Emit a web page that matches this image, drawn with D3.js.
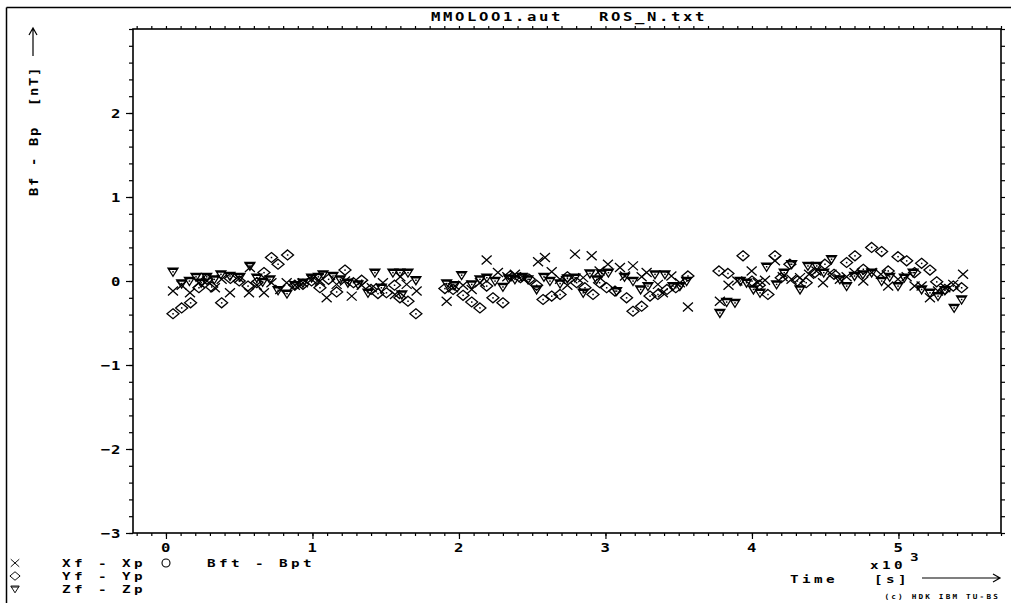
<!DOCTYPE html>
<html><head><meta charset="utf-8">
<script src="https://cdn.jsdelivr.net/npm/d3@7"></script>
<style>
body{margin:0;background:#fff}
svg{display:block}
text{font-family:"DejaVu Sans Mono",monospace;font-weight:bold;fill:#000;white-space:pre}
</style>
</head><body>
<svg id="c" width="1011" height="603"></svg>
<script>
// ---- data (time in s, values in nT) ----
const xTimes=[48,107,164,225,280,334,380,437,500,567,573,620,669,720,780,824,880,935,994,1051,1097,1165,1222,1268,1336,1405,1481,1563,1600,1643,1711,
1916,1960,2028,2087,2143,2189,2266,2330,2382,2440,2540,2587,2633,2690,2740,2792,2848,2906,2960,3017,3099,3133,3188,3247,3281,3358,3392,3450,3508,3563,
3781,3840,3900,3998,4040,4089,4157,4210,4270,4328,4390,4440,4485,4543,4600,4646,4700,4760,4817,4880,4930,4997,5056,5110,5158,5215,5270,5320,5374,5441];
const xVals=[-0.12,-0.05,-0.14,-0.02,0.00,-0.08,0.02,-0.14,0.03,-0.14,0.16,-0.05,-0.14,-0.02,-0.10,-0.02,-0.05,-0.02,0.02,0.00,-0.20,-0.04,0.00,-0.18,-0.05,-0.08,-0.02,-0.16,0.05,-0.04,-0.12,
-0.24,-0.08,-0.05,-0.10,-0.02,0.25,0.10,0.05,0.08,0.04,0.23,0.28,0.11,0.02,-0.05,0.32,0.04,0.30,0.12,0.20,0.16,0.06,0.18,0.05,0.10,-0.04,-0.14,0.06,-0.02,-0.31,
-0.24,-0.05,0.00,0.12,-0.02,0.01,0.24,0.05,0.02,0.04,0.08,0.12,-0.02,0.08,0.02,0.05,0.10,0.00,0.10,0.08,-0.06,0.02,0.05,-0.06,-0.06,-0.20,-0.12,-0.08,-0.04,0.08];

const yTimes=[48,107,168,225,280,312,380,440,500,560,620,669,720,765,830,880,935,994,1051,1110,1165,1222,1280,1336,1400,1447,1505,1560,1597,1652,1706,
1904,1960,2028,2087,2143,2189,2232,2300,2350,2420,2480,2530,2574,2633,2690,2740,2803,2860,2915,2960,3008,3065,3144,3188,3247,3304,3358,3420,3480,3563,
3775,3836,3939,4000,4050,4109,4157,4200,4259,4310,4370,4430,4498,4560,4646,4703,4760,4817,4885,4930,4997,5056,5110,5158,5215,5261,5317,5374,5431];
const yVals=[-0.39,-0.32,-0.26,-0.08,0.02,-0.07,-0.26,0.03,0.00,-0.06,-0.02,0.10,0.28,0.20,0.31,-0.05,-0.04,0.00,-0.08,0.02,-0.13,0.13,-0.02,0.01,-0.10,-0.15,-0.14,-0.05,-0.20,-0.24,-0.39,
-0.09,-0.10,-0.17,-0.25,-0.32,-0.06,-0.20,-0.26,0.06,0.04,0.02,-0.05,-0.22,-0.18,-0.16,0.05,-0.02,-0.08,-0.16,-0.02,-0.08,-0.12,-0.20,-0.36,-0.30,-0.18,-0.16,-0.10,-0.08,0.06,
0.12,0.09,0.30,0.00,-0.05,-0.16,0.30,0.04,0.20,0.00,-0.02,0.10,0.20,0.08,0.22,0.30,0.14,0.40,0.35,0.12,0.29,0.24,0.10,0.21,0.13,-0.01,-0.10,-0.06,-0.08];

const zTimes=[48,107,160,205,240,278,330,375,437,505,573,620,660,710,765,826,880,935,994,1040,1072,1140,1190,1242,1311,1379,1426,1470,1549,1597,1610,1652,1706,
1916,1970,2018,2087,2143,2190,2246,2300,2340,2382,2430,2471,2530,2580,2621,2690,2740,2792,2848,2894,2940,2974,3020,3076,3130,3188,3240,3290,3338,3406,3461,3508,3554,
3781,3827,3884,3920,3963,4010,4055,4100,4168,4220,4271,4328,4382,4442,4490,4543,4600,4646,4700,4757,4817,4885,4940,4997,5040,5100,5158,5215,5270,5317,5380,5431];
const zVals=[0.11,-0.03,0.00,0.05,-0.02,0.05,0.02,0.08,0.06,0.05,0.18,0.04,-0.01,0.02,-0.11,-0.15,-0.05,-0.02,0.04,0.05,0.08,0.06,0.02,-0.02,-0.04,-0.14,0.10,-0.08,0.10,0.10,-0.16,0.10,0.01,
-0.03,-0.05,0.07,-0.04,0.02,0.04,0.00,-0.07,0.03,0.02,0.05,0.02,-0.10,0.05,0.00,-0.03,0.03,0.04,-0.14,0.09,0.02,0.09,0.10,-0.12,0.05,0.00,-0.10,-0.06,0.08,0.08,-0.06,-0.06,0.00,
-0.38,-0.25,-0.26,0.00,-0.02,-0.10,-0.14,0.17,-0.04,0.10,0.20,-0.10,0.18,0.18,0.10,0.26,0.02,-0.06,0.06,0.08,0.10,0.00,0.05,-0.06,0.04,0.10,-0.10,-0.14,-0.18,-0.11,-0.32,-0.22];

const xTickLabels=[0,1,2,3,4,5];          // x 10^3 s
const yTickLabels=[-3,-2,-1,0,1,2];
const titleText="MMOLOO1.aut   ROS_N.txt";
const yAxisLabel="Bf - Bp  [nT]";
const xAxisLabel="Time   [s]";
const xScaleNote="x10";
const xScaleExp="3";
const legendLabels=["Xf - Xp","Yf - Yp","Zf - Zp"];
const legendExtra="Bft - Bpt";
const credit="(c) HDK IBM TU-BS";

// ---- layout ----
const L=133,R=1001,T=29,B=533;
const svg=d3.select("#c");
const x=d3.scaleLinear().domain([-0.225,5.70]).range([L,R]);
const y=d3.scaleLinear().domain([-3,3]).range([B,T]);

// stretched bold monospace text helper (plotter-style font)
function txt(px,py,str,o={}){
  const size=o.size||12, adv=o.adv||12, sx=o.sx||1.3, rot=o.rot||0;
  const g=svg.append("g").attr("transform",`translate(${px},${py}) rotate(${rot}) scale(${sx},1)`);
  const t=g.append("text").attr("x",0).attr("y",0).style("font-size",size+"px")
    .attr("letter-spacing",(adv/sx-0.602*size).toFixed(2))
    .attr("text-anchor",o.anchor||"start").text(str);
  return t;
}

function styleAxis(g){g.select(".domain").remove();g.selectAll("line").attr("stroke","#000").attr("stroke-width",1.2);}

const xMinor=d3.range(-2,58).map(i=>i/10);
const yMinor=d3.range(-15,16).map(i=>i/5);

svg.append("g").attr("transform",`translate(0,${B})`)
  .call(d3.axisBottom(x).tickValues(xMinor).tickSize(3).tickFormat("")).call(styleAxis);
svg.append("g").attr("transform",`translate(0,${B})`)
  .call(d3.axisBottom(x).tickValues(xTickLabels).tickSize(6).tickFormat("")).call(styleAxis);
svg.append("g").attr("transform",`translate(0,${T})`)
  .call(d3.axisTop(x).tickValues(xMinor).tickSize(3).tickFormat("")).call(styleAxis);
svg.append("g").attr("transform",`translate(${L},0)`)
  .call(d3.axisLeft(y).tickValues(yMinor).tickSize(4).tickFormat("")).call(styleAxis);
svg.append("g").attr("transform",`translate(${L},0)`)
  .call(d3.axisLeft(y).tickValues(yTickLabels).tickSize(7).tickFormat("")).call(styleAxis);
svg.append("g").attr("transform",`translate(${R},0)`)
  .call(d3.axisRight(y).tickValues(yMinor).tickSize(4).tickFormat("")).call(styleAxis);

// tick labels
yTickLabels.forEach(v=>txt(121,y(v)+5,v<0?"\u2212"+(-v):String(v),{anchor:"end",adv:10,size:13,sx:1.2}));
xTickLabels.forEach(v=>txt(x(v)+1,552,String(v),{anchor:"middle",size:13,sx:1.2}));

svg.append("rect").attr("x",L).attr("y",T).attr("width",R-L).attr("height",B-T)
  .attr("fill","none").attr("stroke","#000").attr("stroke-width",1.6);
// outer frame lines
svg.append("line").attr("x1",6.5).attr("x2",1011).attr("y1",7.5).attr("y2",7.5).attr("stroke","#000").attr("stroke-width",1.5);
svg.append("line").attr("x1",6.5).attr("x2",6.5).attr("y1",7.5).attr("y2",603).attr("stroke","#000").attr("stroke-width",1.5);

// ---- markers ----
const crossPath="M-5,-4.5L5,4.5M-5,4.5L5,-4.5";
const diamondPath="M0,-5L6,0L0,5L-6,0Z";
const triPath="M-5,-3.5L5,-3.5L0,4.5Z M-4.5,-2.3L4.5,-2.3";
function drawSeries(times,vals,path,dot){
  const g=svg.append("g");
  times.forEach((t,i)=>{
    const gg=g.append("g").attr("transform",`translate(${x(t/1000)},${y(vals[i])})`);
    gg.append("path").attr("d",path).attr("fill","none").attr("stroke","#000").attr("stroke-width",1.3);
    if(dot!==null) gg.append("rect").attr("x",-0.7).attr("y",dot-0.7).attr("width",1.5).attr("height",1.5).attr("fill","#000");
  });
}
drawSeries(xTimes,xVals,crossPath,null);
drawSeries(yTimes,yVals,diamondPath,0);
drawSeries(zTimes,zVals,triPath,0);

// ---- texts ----
txt((L+R)/2+2,21,titleText,{anchor:"middle"});
txt(38,196,yAxisLabel,{rot:-90,adv:10,sx:1.15});
// y arrow
svg.append("path").attr("d","M33,56L33,28M29,35L33,28L37,35").attr("fill","none").attr("stroke","#000").attr("stroke-width",1.2);

// legend
const legY=[567,580,593];
const legPaths=[crossPath,diamondPath,triPath];
legendLabels.forEach((s,i)=>{
  svg.append("path").attr("transform",`translate(15,${legY[i]-4}) scale(0.85)`).attr("d",legPaths[i]).attr("fill","none").attr("stroke","#000").attr("stroke-width",1.1);
  txt(62,legY[i],s,{size:11});
});
svg.append("circle").attr("cx",166).attr("cy",legY[0]-4).attr("r",4).attr("fill","none").attr("stroke","#000").attr("stroke-width",1.1);
txt(207,legY[0],legendExtra,{size:11});

// x axis label
txt(870,569,xScaleNote,{size:11});
txt(910,561,xScaleExp,{size:11});
txt(790,583,xAxisLabel,{size:11});
svg.append("path").attr("d","M922,578L1000,578M993,574L1000,578L993,582").attr("fill","none").attr("stroke","#000").attr("stroke-width",1.2);
txt(1000,599,credit,{size:7,adv:6.8,sx:1.1,anchor:"end"});
</script>
</body></html>
